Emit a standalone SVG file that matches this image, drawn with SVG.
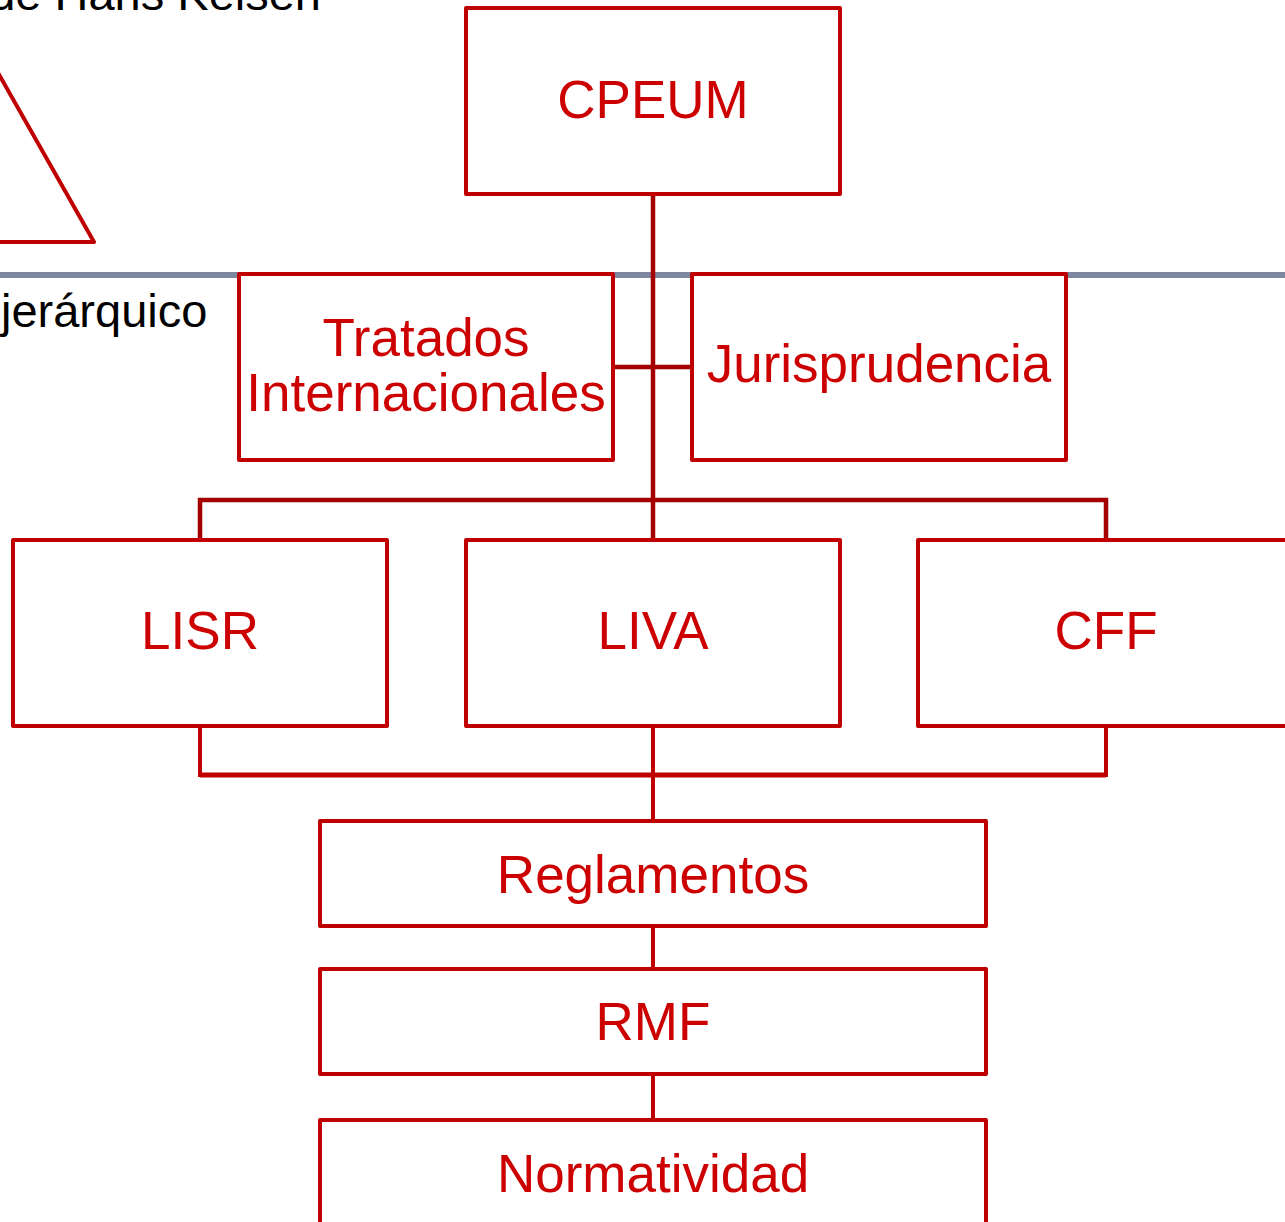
<svg xmlns="http://www.w3.org/2000/svg" width="1285" height="1222" viewBox="0 0 1285 1222">
<style>
.box{fill:#ffffff;stroke:#C00000;stroke-width:4;stroke-linejoin:round}
.lbl{font-family:"Liberation Sans",Arial,sans-serif;font-size:53px;fill:#CC0000;text-anchor:middle}
.blk{font-family:"Liberation Sans",Arial,sans-serif;font-size:47px;fill:#000000}
.c1{fill:none;stroke:#A50000;stroke-width:4.5}
.c2{fill:none;stroke:#C00000;stroke-width:4}
</style>
<rect x="0" y="0" width="1285" height="1222" fill="#ffffff"/>
<g id="background">
<text class="blk" x="321" y="10" text-anchor="end">de Hans Kelsen</text>
<polyline points="-3,71 94,242 -5,242" fill="none" stroke="#C00000" stroke-width="4" stroke-linejoin="round"/>
<line x1="0" y1="275" x2="1285" y2="275" stroke="#7F87A0" stroke-width="6"/>
<text class="blk" x="1" y="327">jerárquico</text>
</g>
<g id="connectors">
<path class="c1" d="M653,194 V540 M614,367 H692 M200,540 V500 H1106 V540"/>
<path class="c2" d="M200,728 V775 H1106 V728 M653,728 V821 M653,926 V969 M653,1074 V1120"/>
<line x1="200" y1="775" x2="1106" y2="775" stroke="#C00000" stroke-width="5"/>
</g>
<g id="cpeum"><rect class="box" x="466" y="8" width="374" height="186"/><text class="lbl" x="653" y="118">CPEUM</text></g>
<g id="tratados"><rect class="box" x="239" y="274" width="374" height="186"/><text class="lbl" x="426" y="356">Tratados</text><text class="lbl" x="426" y="411">Internacionales</text></g>
<g id="jurisprudencia"><rect class="box" x="692" y="274" width="374" height="186"/><text class="lbl" x="879" y="382">Jurisprudencia</text></g>
<g id="lisr"><rect class="box" x="13" y="540" width="374" height="186"/><text class="lbl" x="200" y="649">LISR</text></g>
<g id="liva"><rect class="box" x="466" y="540" width="374" height="186"/><text class="lbl" x="653" y="649">LIVA</text></g>
<g id="cff"><rect class="box" x="918" y="540" width="376" height="186"/><text class="lbl" x="1106" y="649">CFF</text></g>
<g id="reglamentos"><rect class="box" x="320" y="821" width="666" height="105"/><text class="lbl" x="653" y="893">Reglamentos</text></g>
<g id="rmf"><rect class="box" x="320" y="969" width="666" height="105"/><text class="lbl" x="653" y="1040">RMF</text></g>
<g id="normatividad"><rect class="box" x="320" y="1120" width="666" height="120"/><text class="lbl" x="653" y="1192">Normatividad</text></g>
</svg>
